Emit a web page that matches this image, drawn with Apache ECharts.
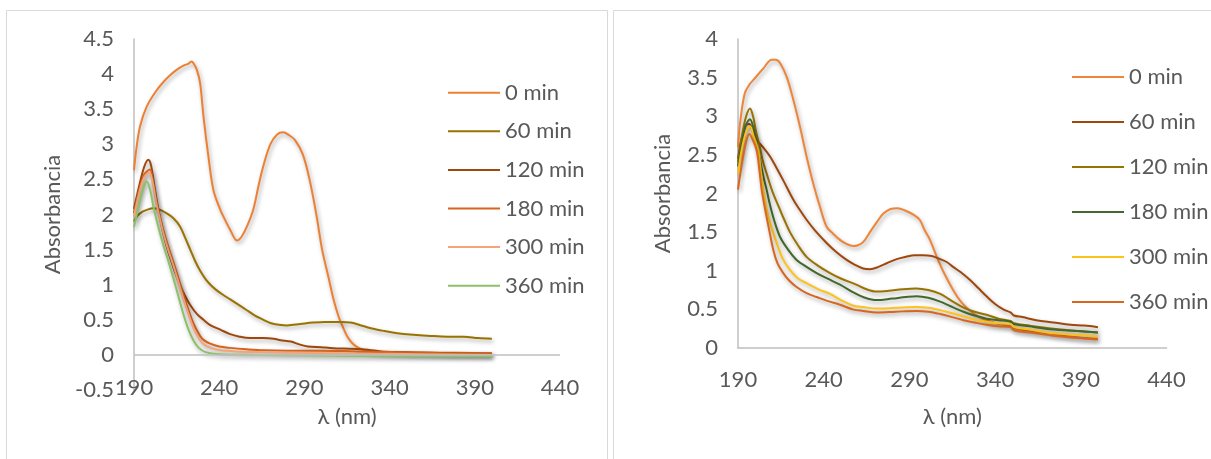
<!DOCTYPE html>
<html>
<head>
<meta charset="utf-8">
<script src="https://cdn.jsdelivr.net/npm/echarts@6/dist/echarts.min.js"></script>
<style>
html,body{margin:0;padding:0;background:#fff;}
#c{width:1211px;height:459px;}
</style>
</head>
<body>
<div id="c"></div>
<script>
// ---------- data ----------
const xTicks = [190, 240, 290, 340, 390, 440];
const seriesNames = ['0 min', '60 min', '120 min', '180 min', '300 min', '360 min'];

// left panel (wavelength nm, absorbance)
const left0 = [[190,2.63],[191.2,2.9],[193.5,3.25],[197.5,3.54],[203,3.76],[207,3.88],[211,3.98],[215,4.06],[219,4.12],[222,4.15],[223.8,4.18],[225,4.15],[226.9,4.06],[228.8,3.87],[230.8,3.39],[233.7,2.82],[236.6,2.35],[240.6,2.07],[243.5,1.92],[246.5,1.78],[250.4,1.63],[253,1.68],[256.3,1.83],[260,2.07],[263,2.4],[266,2.7],[270,3.0],[274,3.14],[277.5,3.17],[281,3.13],[284.5,3.06],[289,2.86],[293,2.5],[297,2.0],[300.4,1.5],[304,1.12],[307,0.8],[310,0.55],[312,0.43],[315,0.27],[318,0.17],[321,0.11],[325,0.07],[330,0.05],[340,0.04],[360,0.03],[380,0.03],[400,0.02]];
const left60 = [[190,1.9],[192,1.98],[195,2.04],[198,2.07],[201,2.09],[205,2.07],[209,2.02],[213,1.95],[217,1.83],[220,1.67],[223,1.5],[226,1.33],[229,1.19],[232,1.08],[235,0.995],[238,0.93],[242,0.86],[246.5,0.79],[251,0.72],[256,0.64],[261,0.56],[266,0.5],[270,0.455],[275,0.43],[280,0.42],[287.6,0.44],[295,0.46],[302,0.47],[307,0.47],[312,0.47],[317,0.46],[322,0.43],[329,0.38],[337,0.34],[344.5,0.31],[352,0.29],[364,0.27],[374,0.26],[383.5,0.26],[392,0.24],[400,0.23]];
const left120 = [[190,2.08],[193,2.4],[196,2.68],[198.4,2.78],[200,2.7],[202,2.4],[204.3,2.07],[207,1.75],[209.5,1.52],[212,1.33],[214.5,1.15],[217.5,0.97],[220,0.84],[223,0.71],[227,0.58],[230.8,0.5],[235,0.42],[240.6,0.36],[246,0.3],[252,0.26],[258,0.24],[266,0.24],[272,0.23],[276,0.21],[282,0.19],[287,0.15],[292,0.12],[300,0.11],[305,0.1],[313,0.09],[321,0.085],[328,0.07],[335,0.05],[345,0.04],[364,0.03],[380,0.02],[400,0.02]];
const left180 = [[190,2.02],[193,2.35],[196,2.57],[199.4,2.64],[201,2.5],[203,2.22],[205,2.0],[207,1.8],[210,1.55],[213,1.33],[216,1.1],[219,0.86],[222,0.64],[225,0.44],[228.8,0.27],[231,0.21],[234.7,0.16],[240,0.12],[246.5,0.1],[256,0.08],[266,0.065],[280,0.06],[300,0.06],[320,0.05],[340,0.04],[360,0.03],[380,0.02],[400,0.02]];
const left300 = [[190,1.97],[193,2.3],[196,2.53],[199,2.6],[201,2.45],[203,2.17],[205,1.95],[207,1.75],[210,1.5],[213,1.28],[216,1.04],[219,0.8],[222,0.58],[225,0.38],[228.5,0.22],[231,0.15],[235,0.1],[240,0.07],[250,0.05],[265,0.04],[290,0.03],[320,0.02],[360,0.01],[400,0.0]];
const left360 = [[190,1.82],[193,2.15],[195.5,2.38],[197.5,2.47],[199.5,2.35],[201.5,2.1],[204,1.85],[207,1.58],[210,1.35],[213,1.1],[216,0.84],[219,0.58],[222,0.36],[225,0.2],[228,0.1],[232,0.04],[240,0.01],[260,0.0],[300,-0.01],[350,-0.02],[400,-0.02]];

// right panel
const right0 = [[190,2.6],[191.2,2.91],[194,3.3],[197,3.42],[199,3.47],[204.8,3.62],[209.7,3.73],[212,3.73],[214.5,3.69],[218.4,3.51],[222.3,3.21],[226.2,2.86],[230,2.48],[233.9,2.13],[237.8,1.83],[241.7,1.57],[245.5,1.48],[249.5,1.4],[253,1.35],[257.3,1.32],[260,1.33],[263,1.37],[267,1.5],[271,1.63],[274.8,1.74],[279,1.8],[283,1.81],[288.4,1.77],[292,1.73],[296,1.66],[299,1.52],[302,1.4],[306,1.18],[310,0.98],[315.5,0.75],[320,0.6],[325,0.49],[330,0.41],[335,0.36],[342,0.31],[349,0.28],[351,0.26],[360,0.22],[374,0.18],[388,0.14],[400,0.12]];
const right60 = [[190,2.45],[192,2.7],[194.5,2.88],[196.5,2.9],[199,2.78],[201,2.69],[204.6,2.6],[208.7,2.48],[212.5,2.33],[216.4,2.17],[222.3,1.92],[226,1.79],[230,1.66],[235,1.52],[241.7,1.36],[247,1.25],[253.4,1.14],[258,1.08],[263,1.03],[267,1.02],[272,1.05],[277,1.1],[282.6,1.15],[288,1.18],[293,1.2],[298,1.2],[303,1.19],[308,1.15],[312,1.11],[315.5,1.05],[320,0.98],[325.4,0.88],[330,0.78],[335,0.67],[340,0.57],[344.8,0.5],[349,0.46],[351,0.42],[356,0.4],[364,0.36],[374,0.33],[384,0.3],[392,0.29],[400,0.27]];
const right120 = [[190,2.4],[192,2.7],[194.5,2.98],[197,3.1],[199,2.98],[200.5,2.8],[202.8,2.6],[204.5,2.42],[206.7,2.26],[210,2.03],[214.5,1.79],[217,1.66],[220.3,1.5],[225,1.33],[230,1.18],[237,1.06],[243.7,0.97],[250,0.9],[259,0.82],[265,0.76],[271,0.73],[278,0.74],[286,0.76],[294,0.77],[301,0.75],[308,0.7],[314,0.62],[321,0.53],[328,0.47],[335,0.43],[342,0.38],[349,0.35],[351,0.32],[360,0.29],[374,0.25],[388,0.22],[400,0.2]];
const right180 = [[190,2.35],[192,2.62],[194.5,2.88],[197,2.96],[199,2.85],[201,2.64],[203,2.42],[205,2.2],[206.7,2.05],[208.7,1.85],[211,1.66],[214.5,1.44],[219,1.28],[224.2,1.14],[230,1.05],[235.9,0.97],[242,0.9],[249.5,0.82],[257.3,0.72],[263,0.66],[271,0.62],[280,0.64],[288,0.66],[294.3,0.67],[301,0.65],[308,0.6],[314,0.54],[321.5,0.47],[328,0.42],[335,0.38],[342,0.36],[349,0.34],[351,0.31],[360,0.28],[374,0.24],[388,0.22],[400,0.2]];
const right300 = [[190,2.25],[192,2.55],[194.5,2.78],[197,2.87],[199,2.75],[201.8,2.56],[203.3,2.3],[204.8,2.05],[206.7,1.8],[209,1.6],[212.6,1.36],[216,1.16],[220.3,1.01],[225,0.9],[230,0.84],[237,0.76],[243.7,0.7],[250,0.62],[257,0.55],[263,0.53],[271,0.51],[282,0.52],[294,0.53],[301,0.52],[308,0.49],[315,0.45],[321.5,0.41],[328,0.37],[335,0.34],[342,0.32],[349,0.31],[351,0.27],[360,0.24],[374,0.19],[388,0.17],[400,0.15]];
const right360 = [[190,2.05],[192,2.35],[194.5,2.65],[196.6,2.77],[198.5,2.7],[200.9,2.56],[202.5,2.3],[203.8,2.05],[205.8,1.8],[208,1.55],[210.6,1.27],[213,1.1],[216.4,0.97],[220,0.87],[224.2,0.79],[230,0.71],[235.9,0.66],[242,0.61],[249.5,0.56],[257,0.5],[263,0.48],[271,0.46],[282,0.47],[294,0.48],[301,0.47],[308,0.44],[315,0.4],[321.5,0.36],[328,0.33],[335,0.3],[342,0.28],[349,0.27],[351,0.23],[360,0.2],[374,0.16],[388,0.13],[400,0.11]];

const leftData = [left0, left60, left120, left180, left300, left360];
const rightData = [right0, right60, right120, right180, right300, right360];
const leftColors = ['#EE8034', '#997300', '#9E480E', '#D9641B', '#F4A67A', '#8CC168'];
const rightColors = ['#EE8538', '#9E480E', '#997300', '#43682B', '#FFC21A', '#D9661E'];

// ---------- chart ----------
const FONT = 'Lato';
const TXT = '#595959';
const AXC = '#BFBFBF';
const FS = 22;

function xAxisCfg(gridIndex, margin, nameGap) {
  return {
    type: 'value', gridIndex, min: 190, max: 440,
    name: 'λ (nm)', nameLocation: 'middle', nameGap,
    nameTextStyle: { color: TXT, fontFamily: FONT, fontSize: FS },
    axisLine: { show: gridIndex === 1, onZero: false, lineStyle: { color: AXC, width: 1.5 } },
    axisTick: { show: false },
    splitLine: { show: false },
    axisLabel: { customValues: xTicks, color: TXT, fontFamily: FONT, fontSize: FS, margin, showMinLabel: true, showMaxLabel: true }
  };
}
function yAxisCfg(gridIndex, min, max, nameGap) {
  return {
    type: 'value', gridIndex, min, max, interval: 0.5,
    name: 'Absorbancia', nameLocation: 'middle', nameGap, nameRotate: 90,
    nameTextStyle: { color: TXT, fontFamily: FONT, fontSize: FS },
    axisLine: { show: true, onZero: false, lineStyle: { color: AXC, width: 1.5 } },
    axisTick: { show: false },
    splitLine: { show: false },
    axisLabel: { color: TXT, fontFamily: FONT, fontSize: FS, margin: 20, showMinLabel: true, showMaxLabel: true }
  };
}

const shadow = { shadowColor: 'rgba(0,0,0,0.35)', shadowBlur: 4, shadowOffsetX: 1.5, shadowOffsetY: 2.5 };
const series = [];
leftData.forEach((d, i) => {
  const s = {
    name: seriesNames[i], type: 'line', xAxisIndex: 0, yAxisIndex: 0,
    data: d, symbol: 'none', smooth: 0.35,
    lineStyle: Object.assign({ color: leftColors[i], width: 2 }, shadow),
    itemStyle: { color: leftColors[i] }
  };
  if (i === 0) {
    // horizontal axis line drawn at absorbance 0
    s.markLine = {
      silent: true, symbol: 'none', label: { show: false },
      lineStyle: { color: AXC, width: 1.5, type: 'solid' },
      data: [{ yAxis: 0 }]
    };
  }
  series.push(s);
});
rightData.forEach((d, i) => {
  series.push({
    name: 'R:' + seriesNames[i], type: 'line', xAxisIndex: 1, yAxisIndex: 1,
    data: d, symbol: 'none', smooth: 0.35,
    lineStyle: Object.assign({ color: rightColors[i], width: 2 }, shadow),
    itemStyle: { color: rightColors[i] }
  });
});

const legendBase = {
  orient: 'vertical', itemWidth: 52, itemHeight: 14, padding: 0,
  icon: 'path://M0,6 L52,6 L52,8 L0,8 Z',
  textStyle: { color: TXT, fontFamily: FONT, fontSize: FS, lineHeight: 20 },
  formatter: n => n.replace(/^R:/, ''),
  selectedMode: false
};

const chart = echarts.init(document.getElementById('c'), null, { renderer: 'canvas' });
chart.setOption({
  animation: false,
  backgroundColor: '#ffffff',
  graphic: [
    { type: 'rect', shape: { x: 6.5, y: 10.5, width: 601, height: 470 }, style: { fill: 'none', stroke: '#D9D9D9', lineWidth: 1 }, silent: true },
    { type: 'rect', shape: { x: 613.5, y: 10.5, width: 620, height: 470 }, style: { fill: 'none', stroke: '#D9D9D9', lineWidth: 1 }, silent: true }
  ],
  grid: [
    { left: 134, top: 39, width: 426, height: 351, containLabel: false, outerBoundsMode: 'none' },
    { left: 738, top: 39, width: 428.5, height: 309, containLabel: false, outerBoundsMode: 'none' }
  ],
  xAxis: [xAxisCfg(0, -13, 16), xAxisCfg(1, 21, 58)],
  yAxis: [yAxisCfg(0, -0.5, 4.5, 70), yAxisCfg(1, 0, 4, 64)],
  legend: [
    Object.assign({}, legendBase, { left: 448, top: 81.7, itemGap: 16.6, data: seriesNames.slice() }),
    Object.assign({}, legendBase, { left: 1072, top: 66, itemGap: 23, data: seriesNames.map(n => 'R:' + n) })
  ],
  series
});
</script>
</body>
</html>
